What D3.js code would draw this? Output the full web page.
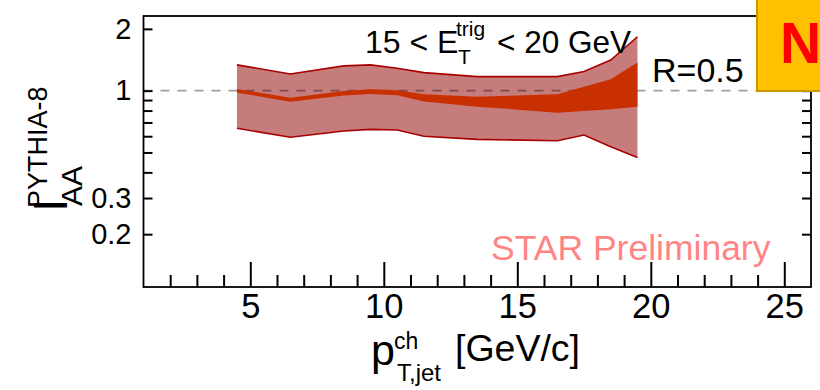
<!DOCTYPE html>
<html lang="en">
<head>
<meta charset="UTF-8">
<title>I_AA vs pT jet</title>
<script src="https://d3js.org/d3.v7.min.js"></script>
<style>
    body { margin: 0; background: white; }
    svg { font-family: "Liberation Sans", Arial, Helvetica, sans-serif; }
</style>
</head>
<body>
<svg width="820" height="390"></svg>
<script>
    // band points (pT,jet in GeV/c)
    const ptJet = [4.5, 6.5, 8.5, 9.5, 10.5, 11.5, 13.5, 16.5, 17.5, 18.5, 19.5];
    // outer (total) uncertainty band
    const outerHigh = [1.335, 1.206, 1.32, 1.335, 1.286, 1.224, 1.17, 1.17, 1.24, 1.41, 1.83];
    const outerLow  = [0.656, 0.593, 0.636, 0.648, 0.643, 0.60, 0.579, 0.57, 0.608, 0.533, 0.473];
    // inner band
    const innerHigh = [1.019, 0.924, 0.997, 1.016, 1.005, 0.96, 0.935, 0.96, 1.046, 1.137, 1.37];
    const innerLow  = [0.978, 0.884, 0.947, 0.964, 0.95, 0.885, 0.836, 0.781, 0.796, 0.811, 0.836];

    const xMajor = [5, 10, 15, 20, 25];
    const xMinor = d3.range(2, 26);
    const yTicks = [0.2, 0.3, 0.4, 0.5, 0.6, 0.7, 0.8, 0.9, 1, 2];
    const yLabels = [0.2, 0.3, 1, 2];

    const svg = d3.select("svg");
    const fL = 143.5, fR = 811, fT = 16, fB = 287;

    const x = d3.scaleLinear().domain([1, 26]).range([fL, fR]);
    const y = d3.scaleLog().domain([0.1106, 2.31]).range([fB, fT]);

    const rows = ptJet.map((p, i) => ({p: p, oh: outerHigh[i], ol: outerLow[i], ih: innerHigh[i], il: innerLow[i]}));

    // outer band
    svg.append("path")
        .datum(rows)
        .attr("fill", "#c77c7c")
        .attr("d", d3.area().x(d => x(d.p)).y0(d => y(d.ol)).y1(d => y(d.oh)));

    const edge = svg.append("g").attr("fill", "none").attr("stroke", "#a80000").attr("stroke-width", 1.6);
    edge.append("path").datum(rows).attr("d", d3.line().x(d => x(d.p)).y(d => y(d.oh)));
    edge.append("path").datum(rows).attr("d", d3.line().x(d => x(d.p)).y(d => y(d.ol)));

    // reference line at 1
    svg.append("line")
        .attr("x1", fL).attr("x2", fR)
        .attr("y1", y(1)).attr("y2", y(1))
        .attr("stroke", "#000").attr("stroke-opacity", 0.38)
        .attr("stroke-width", 1.6)
        .attr("stroke-dasharray", "9,8");

    // inner band
    svg.append("path")
        .datum(rows)
        .attr("fill", "#c83000")
        .attr("d", d3.area().x(d => x(d.p)).y0(d => y(d.il)).y1(d => y(d.ih)));

    // frame
    svg.append("rect")
        .attr("x", fL).attr("y", fT)
        .attr("width", fR - fL).attr("height", fB - fT)
        .attr("fill", "none").attr("stroke", "#000").attr("stroke-width", 1.8);

    // x axis
    const xAxis = svg.append("g")
        .attr("transform", `translate(0,${fB})`)
        .call(d3.axisBottom(x).tickValues(xMajor).tickSize(-25).tickPadding(7).tickFormat(d3.format("d")));
    xAxis.select(".domain").remove();
    xAxis.selectAll("line").attr("stroke-width", 2);
    xAxis.selectAll("text").attr("font-size", 34.5).attr("fill", "#000");

    const xMin = svg.append("g")
        .attr("transform", `translate(0,${fB})`)
        .call(d3.axisBottom(x).tickValues(xMinor.filter(v => v % 5 !== 0)).tickSize(-12).tickFormat(""));
    xMin.select(".domain").remove();
    xMin.selectAll("line").attr("stroke-width", 2);

    // y axis (left)
    const yAxis = svg.append("g")
        .attr("transform", `translate(${fL},0)`)
        .call(d3.axisLeft(y).tickValues(yTicks).tickSize(-9).tickPadding(12)
            .tickFormat(d => yLabels.includes(d) ? String(d) : ""));
    yAxis.select(".domain").remove();
    yAxis.selectAll("line").attr("stroke-width", 2);
    yAxis.selectAll("text").attr("font-size", 29).attr("fill", "#000");

    // y axis (right)
    const yAxisR = svg.append("g")
        .attr("transform", `translate(${fR},0)`)
        .call(d3.axisRight(y).tickValues(yTicks).tickSize(-9).tickFormat(""));
    yAxisR.select(".domain").remove();
    yAxisR.selectAll("line").attr("stroke-width", 2);

    // title text
    svg.append("text").attr("x", 365).attr("y", 53).attr("font-size", 32).text("15 < E");
    svg.append("text").attr("x", 456).attr("y", 36).attr("font-size", 21).text("trig");
    svg.append("text").attr("x", 458).attr("y", 64).attr("font-size", 21).text("T");
    svg.append("text").attr("x", 497).attr("y", 53).attr("font-size", 31.5).text("< 20 GeV");

    svg.append("text").attr("x", 652).attr("y", 81.5).attr("font-size", 34).text("R=0.5");

    svg.append("text").attr("x", 491).attr("y", 260).attr("font-size", 35.5)
        .attr("fill", "#ff8585").text("STAR Preliminary");

    // y title
    const yt = svg.append("g").attr("transform", "translate(67,212) rotate(-90)");
    yt.append("text").attr("x", 0).attr("y", 0).attr("font-size", 48).text("I");
    yt.append("text").attr("x", 6).attr("y", 15).attr("font-size", 30).text("AA");
    yt.append("text").attr("x", 4).attr("y", -20).attr("font-size", 27).text("PYTHIA-8");

    // x title
    svg.append("text").attr("x", 371).attr("y", 365).attr("font-size", 43).text("p");
    svg.append("text").attr("x", 394).attr("y", 349).attr("font-size", 23).text("ch");
    svg.append("text").attr("x", 397).attr("y", 381).attr("font-size", 24).text("T,jet");
    svg.append("text").attr("x", 455).attr("y", 361).attr("font-size", 37.5).text("[GeV/c]");

    // badge
    svg.append("rect")
        .attr("x", 757).attr("y", -3).attr("width", 70).attr("height", 94)
        .attr("fill", "#ffc000").attr("stroke", "#c99a00").attr("stroke-width", 2);
    svg.append("text").attr("x", 780).attr("y", 63).attr("font-size", 57)
        .attr("font-weight", "bold").attr("fill", "#ff0000").text("N");
</script>
</body>
</html>
